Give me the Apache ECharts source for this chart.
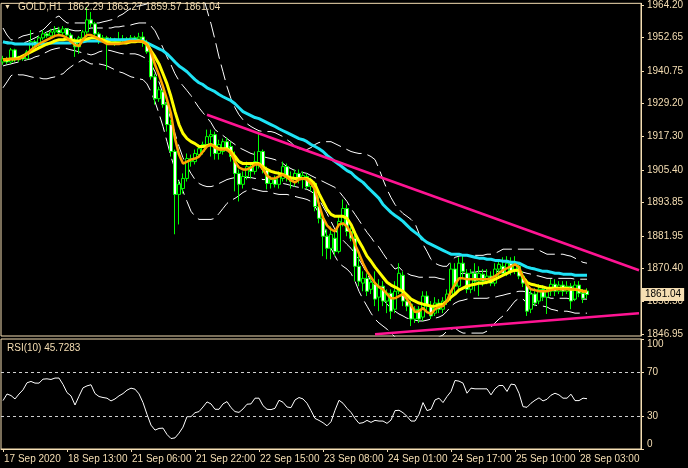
<!DOCTYPE html>
<html><head><meta charset="utf-8">
<script src="https://cdn.jsdelivr.net/npm/echarts@6/dist/echarts.min.js"></script>
<style>html,body{margin:0;padding:0;background:#000;}#c{width:688px;height:468px;}</style>
</head><body><div id="c"></div>
<script>
const symbolName = 'GOLD,H1';
const rsiName = 'RSI(10)';
const xTickIndex = [0,16,32,48,64,80,96,112,128,144];
const xTickLabels = ['17 Sep 2020','18 Sep 13:00','21 Sep 06:00','21 Sep 22:00','22 Sep 15:00','23 Sep 08:00','24 Sep 01:00','24 Sep 17:00','25 Sep 10:00','28 Sep 03:00'];
const barSlots = 160;
const priceTicks = [1964.20,1952.65,1940.75,1929.20,1917.30,1905.40,1893.85,1881.95,1870.40,1858.50,1846.95];
const priceMin = 1846.26, priceMax = 1964.80;
const rsiTicks = [0,30,70,100];
const rsiLevels = [70,30];

// [open, close, low, high]
const ohlc = [
[1943.9,1945.0,1942.9,1946.1],[1945.0,1943.9,1943.2,1945.7],[1943.9,1948.2,1943.2,1948.9],[1948.2,1944.7,1943.9,1948.6],
[1944.7,1945.7,1943.9,1946.1],[1945.7,1945.0,1944.3,1946.4],[1945.0,1947.5,1944.7,1948.2],[1947.5,1951.1,1947.1,1955.3],
[1951.1,1950.0,1949.3,1951.8],[1950.0,1952.5,1949.3,1953.2],[1952.5,1953.9,1951.8,1955.3],[1953.9,1953.2,1952.5,1954.6],
[1953.2,1954.6,1952.8,1955.7],[1954.6,1955.3,1953.5,1956.7],[1955.3,1954.3,1953.5,1956.4],[1954.3,1955.7,1953.5,1956.7],
[1955.7,1953.5,1952.5,1956.0],[1953.5,1951.8,1951.1,1954.3],[1951.8,1949.3,1945.7,1952.5],[1949.3,1952.5,1946.8,1953.2],
[1952.5,1954.6,1951.8,1955.3],[1954.6,1958.9,1953.9,1963.5],[1958.9,1957.5,1956.4,1961.7],[1957.5,1953.9,1952.8,1958.2],
[1953.9,1951.8,1950.3,1954.6],[1951.8,1952.5,1951.1,1953.5],[1952.5,1951.1,1941.1,1953.2],[1951.1,1952.1,1950.0,1952.8],
[1952.1,1951.1,1949.6,1952.5],[1951.1,1951.8,1950.3,1954.6],[1951.8,1952.1,1951.1,1953.5],[1952.1,1951.4,1950.3,1952.8],
[1951.4,1952.5,1950.7,1953.5],[1952.5,1952.1,1951.1,1953.2],[1952.1,1952.8,1951.4,1954.3],[1952.8,1951.1,1949.3,1954.6],
[1950.3,1947.5,1946.8,1951.8],[1947.5,1938.6,1937.6,1948.2],[1938.6,1930.8,1928.7,1939.7],[1930.8,1934.0,1929.7,1935.1],
[1933.3,1928.7,1927.6,1934.0],[1928.7,1921.6,1919.1,1929.7],[1921.6,1912.0,1910.2,1923.3],[1912.0,1896.7,1882.5,1912.7],
[1896.7,1900.3,1886.0,1901.3],[1898.8,1902.4,1897.0,1904.2],[1902.4,1909.5,1901.3,1911.3],[1908.4,1909.5,1906.6,1910.9],
[1908.4,1911.3,1907.4,1912.7],[1910.9,1913.0,1909.8,1914.5],[1912.0,1914.5,1910.9,1915.5],[1914.5,1917.3,1913.4,1919.8],
[1917.3,1918.0,1910.2,1919.8],[1918.0,1911.3,1909.1,1919.1],[1911.3,1914.5,1909.1,1916.2],[1912.0,1915.5,1910.9,1916.6],
[1915.5,1913.0,1912.0,1917.0],[1913.8,1910.2,1908.4,1915.5],[1910.2,1904.2,1897.8,1912.0],[1904.2,1900.3,1894.2,1905.6],
[1900.3,1903.1,1898.8,1904.9],[1903.1,1906.6,1902.0,1908.4],[1906.6,1904.9,1902.4,1907.7],[1904.9,1908.4,1903.8,1912.0],
[1907.4,1912.0,1905.9,1919.1],[1912.0,1905.6,1904.2,1912.7],[1905.6,1900.6,1898.5,1906.6],[1900.6,1902.0,1898.8,1903.1],
[1902.0,1900.3,1899.2,1903.4],[1900.3,1903.1,1898.8,1904.9],[1902.4,1906.6,1901.3,1908.4],[1906.6,1902.7,1901.3,1907.7],
[1902.7,1901.3,1898.8,1904.9],[1901.3,1904.2,1899.5,1905.6],[1904.2,1902.0,1900.6,1905.6],[1902.0,1903.4,1898.8,1904.9],
[1903.1,1899.5,1898.5,1904.2],[1899.5,1901.3,1897.8,1902.7],[1900.6,1892.4,1890.7,1901.3],[1892.4,1888.2,1886.4,1896.0],
[1888.2,1881.8,1874.7,1889.2],[1881.8,1877.5,1873.6,1884.3],[1877.5,1882.5,1873.6,1885.3],[1881.1,1876.4,1874.7,1883.5],
[1876.4,1887.1,1875.7,1888.9],[1886.4,1891.7,1885.3,1894.9],[1891.7,1883.5,1881.8,1893.1],[1883.5,1881.1,1880.0,1885.0],
[1881.1,1871.1,1865.8,1882.5],[1871.1,1865.8,1864.0,1876.4],[1865.1,1866.8,1862.2,1869.3],[1866.8,1862.2,1860.5,1868.6],
[1862.9,1865.4,1861.2,1867.9],[1864.7,1859.4,1856.9,1869.3],[1860.1,1864.0,1855.1,1866.5],[1864.0,1858.7,1856.9,1865.8],
[1858.7,1861.5,1854.4,1862.9],[1861.5,1855.1,1852.3,1862.9],[1855.8,1862.2,1854.4,1865.8],[1862.2,1868.6,1861.2,1872.2],
[1867.9,1858.7,1856.9,1869.3],[1858.7,1856.9,1855.1,1860.5],[1857.6,1852.3,1849.8,1858.7],[1852.3,1855.8,1850.9,1856.9],
[1855.8,1852.3,1850.9,1856.9],[1853.0,1860.5,1851.6,1862.2],[1860.5,1856.9,1855.1,1862.2],[1856.9,1853.4,1852.3,1858.7],
[1854.4,1858.0,1853.4,1860.1],[1858.0,1855.8,1854.4,1859.4],[1855.8,1858.7,1854.4,1860.1],[1858.7,1861.2,1857.3,1862.9],
[1860.5,1870.1,1858.7,1872.2],[1870.1,1864.0,1860.5,1872.2],[1864.0,1872.2,1862.2,1874.3],[1872.2,1869.3,1866.8,1874.7],
[1868.6,1862.9,1861.5,1870.1],[1862.9,1868.6,1861.5,1870.1],[1868.6,1865.8,1862.2,1872.2],[1865.8,1868.6,1860.5,1871.1],
[1868.3,1865.8,1864.0,1870.1],[1865.8,1867.6,1864.7,1870.1],[1867.6,1865.1,1864.0,1869.3],[1865.1,1870.1,1864.0,1872.2],
[1870.1,1871.8,1867.6,1873.6],[1871.1,1868.6,1867.6,1874.3],[1868.6,1872.2,1867.6,1874.7],[1872.2,1869.3,1867.9,1874.3],
[1869.3,1871.8,1868.3,1874.7],[1871.1,1867.6,1866.5,1872.2],[1867.6,1865.1,1863.7,1869.3],[1865.1,1855.1,1853.4,1866.5],
[1855.8,1861.2,1854.4,1862.9],[1861.2,1858.0,1856.9,1863.3],[1858.7,1862.9,1857.6,1864.7],[1862.9,1860.1,1858.7,1864.4],
[1860.1,1862.2,1854.1,1863.7],[1862.2,1864.7,1860.5,1866.5],[1864.7,1862.2,1860.5,1866.5],[1862.2,1864.4,1861.2,1865.8],
[1864.4,1862.2,1860.5,1865.8],[1862.2,1864.0,1861.2,1865.8],[1864.0,1858.7,1855.8,1865.1],[1859.4,1864.4,1858.7,1865.8],
[1864.4,1861.5,1860.1,1865.8],[1861.5,1859.7,1858.0,1862.9],[1862.29,1861.04,1859.57,1863.27]
];

const maYellow = [
1944.7,1944.7,1945.0,1945.0,1945.4,1946.1,1946.8,1947.5,1948.2,1948.9,
1949.6,1950.3,1950.7,1951.4,1951.8,1951.8,1952.1,1951.8,1951.4,1951.4,
1951.8,1952.1,1952.5,1952.5,1952.1,1951.8,1951.1,1950.7,1950.7,1950.7,
1950.7,1950.7,1951.1,1951.1,1951.4,1951.1,1950.3,1947.9,1945.7,1943.2,
1939.7,1936.1,1931.5,1926.2,1921.6,1918.4,1916.6,1915.5,1914.8,1913.8,
1913.8,1914.1,1914.5,1913.8,1913.0,1913.0,1913.0,1912.0,1910.2,1908.4,
1907.7,1907.7,1907.7,1907.7,1907.7,1906.6,1905.6,1904.9,1904.5,1904.2,
1903.8,1903.1,1902.7,1902.4,1902.4,1902.4,1902.4,1901.7,1900.3,1897.0,
1894.2,1891.4,1889.6,1888.9,1888.9,1888.9,1888.2,1886.0,1882.8,1880.0,
1877.5,1874.7,1872.9,1870.8,1869.0,1867.2,1865.4,1864.4,1863.7,1862.9,
1862.2,1860.8,1859.4,1858.7,1858.0,1857.6,1857.3,1856.9,1856.9,1857.3,
1857.6,1858.7,1860.1,1861.2,1862.6,1863.3,1864.0,1864.4,1864.7,1865.1,
1865.1,1865.4,1865.8,1866.5,1867.2,1867.9,1868.6,1869.3,1869.7,1869.7,
1867.2,1865.4,1864.7,1864.4,1864.0,1863.7,1863.3,1863.3,1863.3,1863.3,
1863.3,1863.3,1862.9,1862.9,1862.6,1862.2,1862.2];

const maOrange = [
1944.7,1945.0,1945.0,1945.0,1945.0,1945.7,1946.8,1948.2,1949.3,1950.3,
1951.1,1951.8,1952.5,1953.2,1953.5,1953.2,1952.5,1951.1,1950.0,1949.6,
1951.8,1953.5,1953.5,1952.8,1952.1,1951.1,1950.3,1950.3,1950.3,1950.3,
1950.7,1951.1,1951.4,1951.4,1951.4,1951.1,1950.0,1947.5,1942.9,1939.3,
1935.1,1930.5,1925.5,1916.6,1910.9,1907.7,1908.4,1909.1,1909.5,1910.2,
1912.0,1913.8,1914.5,1913.4,1912.7,1912.7,1912.7,1911.3,1908.4,1906.3,
1905.6,1905.6,1906.3,1907.4,1907.4,1905.6,1903.4,1902.4,1902.4,1903.1,
1903.8,1902.7,1901.7,1901.0,1902.0,1902.4,1902.0,1900.6,1898.5,1893.1,
1888.5,1885.7,1884.3,1883.5,1886.0,1886.4,1885.3,1882.8,1878.9,1875.7,
1872.2,1869.3,1867.2,1865.1,1863.7,1862.9,1861.2,1859.7,1859.7,1860.5,
1861.2,1859.4,1857.3,1854.8,1855.1,1856.2,1854.8,1854.1,1855.8,1856.6,
1856.9,1858.7,1862.2,1864.7,1866.8,1866.8,1866.5,1866.5,1866.5,1866.5,
1866.5,1866.5,1866.8,1867.6,1868.6,1869.7,1870.4,1871.1,1871.8,1870.8,
1867.2,1864.4,1862.9,1862.6,1862.2,1862.2,1862.2,1862.6,1862.9,1862.9,
1862.9,1862.9,1862.9,1862.9,1862.6,1862.2,1862.2];

const maCyan = [
1951.1,1950.7,1950.7,1950.3,1950.3,1950.3,1950.3,1950.3,1950.3,1950.3,
1950.3,1950.3,1950.7,1950.7,1950.7,1950.7,1950.7,1950.7,1951.1,1951.1,
1951.1,1951.4,1951.4,1951.4,1951.4,1951.4,1951.8,1951.8,1951.8,1951.8,
1951.8,1951.8,1951.8,1951.8,1951.4,1951.4,1950.7,1950.0,1949.3,1948.6,
1947.9,1946.8,1945.4,1943.9,1942.5,1941.5,1940.4,1939.0,1937.6,1936.5,
1935.8,1934.7,1934.0,1933.3,1932.3,1931.5,1930.8,1930.1,1929.0,1927.6,
1926.2,1925.5,1924.8,1924.1,1923.7,1923.0,1922.3,1921.6,1920.9,1920.1,
1919.4,1918.7,1918.0,1917.3,1916.6,1916.2,1915.5,1914.5,1913.8,1913.0,
1912.0,1910.6,1909.5,1908.4,1907.4,1906.3,1905.2,1904.5,1903.1,1902.0,
1901.0,1899.5,1898.1,1896.7,1895.3,1893.1,1891.7,1890.3,1889.2,1888.2,
1887.1,1885.7,1884.3,1883.2,1882.1,1880.7,1879.6,1878.9,1878.2,1877.5,
1876.8,1876.1,1875.4,1875.4,1875.4,1875.0,1875.0,1874.7,1874.3,1874.0,
1874.0,1873.6,1873.6,1873.2,1873.2,1872.9,1872.9,1872.5,1872.5,1872.2,
1871.5,1870.8,1870.4,1870.1,1869.7,1869.3,1869.3,1869.0,1868.6,1868.6,
1868.3,1868.3,1868.3,1867.9,1867.9,1867.9,1867.9];

const bandOuterUp = [
1956.0,1953.5,1951.8,1951.8,1952.5,1953.2,1953.5,1953.9,1954.3,1954.6,1955.3,1956.7,1958.2,1959.6,1960.3,1958.9,1957.8,1957.8,1957.8,1957.8,1957.8,1957.8,1957.8,1957.8,1957.8,1958.2,1958.5,1958.9,1959.2,1960.3,1961.0,1962.1,1963.1,1963.5,1963.9,1964.2,
1964.6,1966.3,1968.1,1969.5,1971.0,1972.4,1974.2,1975.9,1977.7,1978.8,1978.8,1977.7,1975.2,1971.7,1967.4,1962.4,1957.5,1951.8,1945.7,1940.4,1935.1,
1930.8,1927.6,1925.1,1923.3,1921.9,1920.9,1920.1,1919.4,1919.1,1919.1,1919.1,1918.7,1918.0,1917.3,1916.2,1915.2,1913.8,1913.0,1912.7,1912.7,1913.4,
1914.5,1915.2,1915.5,1915.5,1915.5,1914.8,1914.1,1913.4,1912.7,1912.0,1911.6,1911.3,1911.3,1910.9,1910.2,1909.1,1905.9,1902.0,1898.5,1895.6,1893.1,
1891.4,1889.9,1888.9,1887.8,1886.4,1882.8,1878.9,1876.4,1873.6,1872.2,1871.5,1871.1,1871.1,1872.9,1874.3,1874.7,1875.0,1875.0,1875.0,1875.0,1875.0,
1875.0,1875.4,1875.4,1875.7,1876.4,1877.2,1877.2,1877.2,1877.2,1877.2,1877.2,1877.2,1877.2,1877.2,1876.8,1876.1,1875.4,1875.4,1875.4,1875.4,1875.4,1875.0,1874.7,1874.0,1873.2,1872.5,1872.2];

const bandInnerUp = [
1951.1,1951.1,1950.7,1950.3,1950.3,1950.7,1951.1,1951.8,1952.5,1953.2,1953.9,1954.6,1955.3,1955.7,1956.0,1956.0,1955.7,1955.3,1955.0,1955.0,1955.3,1955.7,1956.0,1956.0,1956.0,1956.0,1956.0,1956.0,1956.4,1956.4,1956.7,1956.7,1957.1,1957.5,1957.8,1957.8,
1957.8,1956.7,1955.0,1952.1,1948.9,1945.7,1942.9,1939.7,1937.2,1935.4,1933.7,1931.9,1929.7,1927.6,1925.8,1924.1,1922.3,1919.8,1918.7,1917.7,1916.6,
1915.5,1914.5,1913.4,1912.7,1912.0,1911.3,1910.9,1910.6,1910.2,1909.8,1909.5,1909.1,1908.4,1907.7,1906.6,1905.9,1905.2,1904.9,1904.5,1904.2,1903.4,
1902.7,1902.0,1901.3,1900.6,1899.9,1899.2,1897.8,1896.0,1894.2,1891.7,1889.6,1887.5,1885.3,1883.2,1881.4,1879.3,1877.9,1875.7,1873.6,1871.8,1870.1,
1870.8,1869.3,1868.6,1867.9,1867.6,1867.2,1867.2,1867.2,1867.2,1867.2,1866.8,1866.5,1866.5,1867.2,1867.9,1868.3,1868.6,1868.6,1869.0,1869.0,1869.3,
1869.3,1869.3,1869.3,1869.3,1869.3,1869.3,1869.3,1869.3,1869.3,1869.3,1869.0,1868.6,1868.3,1867.9,1867.6,1867.2,1866.8,1866.8,1866.8,1866.8,1866.8,1866.8,1866.8,1866.5,1866.5,1866.5,1866.5];

const bandInnerLow = [
1942.5,1942.9,1943.2,1943.6,1943.9,1944.3,1944.7,1945.0,1945.7,1946.1,1946.8,1947.5,1948.2,1948.6,1948.9,1948.9,1948.6,1948.2,1947.9,1947.5,1947.1,1946.8,1946.4,1946.8,1947.5,1947.9,1948.2,1947.9,1947.5,1947.1,1946.8,1946.8,1946.8,1946.8,1946.4,1945.7,
1945.0,1943.2,1940.4,1936.8,1932.6,1928.0,1923.3,1918.4,1913.8,1909.8,1906.6,1904.2,1902.0,1900.6,1899.9,1899.5,1899.5,1899.9,1900.6,1901.3,1902.0,
1902.4,1902.7,1902.7,1902.7,1902.7,1902.7,1902.4,1902.4,1902.0,1902.0,1901.7,1901.3,1901.0,1900.6,1900.3,1899.9,1899.5,1899.2,1898.8,1898.5,1897.8,
1896.7,1894.9,1892.4,1889.9,1887.1,1884.3,1882.1,1880.4,1878.9,1877.5,1875.7,1873.6,1871.1,1868.6,1865.8,1863.3,1861.2,1859.4,1857.6,1856.2,1855.1,
1854.1,1853.4,1852.6,1852.3,1851.9,1851.6,1851.6,1851.9,1852.3,1852.6,1853.0,1853.7,1855.1,1856.9,1858.0,1858.7,1859.0,1859.4,1859.7,1859.7,1859.7,
1859.7,1859.7,1860.1,1860.1,1860.5,1860.8,1861.2,1861.5,1861.9,1862.2,1862.2,1861.9,1861.5,1861.2,1860.8,1860.5,1860.1,1859.7,1859.7,1859.7,1859.7,1859.7,1859.4,1859.4,1859.4,1859.4,1859.4];

const bandOuterLow = [
1934.7,1936.8,1939.0,1939.7,1939.3,1939.3,1939.0,1938.6,1938.3,1938.3,1937.9,1937.9,1938.3,1938.6,1939.3,1939.7,1941.1,1942.2,1943.2,1943.9,1944.7,1943.9,1943.2,1943.2,1943.2,1942.9,1942.5,1941.8,1941.1,1940.4,1940.0,1939.3,1938.6,1938.3,1937.9,1937.6,
1936.1,1933.3,1929.7,1925.5,1920.9,1915.5,1910.2,1905.6,1901.3,1897.8,1894.2,1890.7,1888.9,1887.8,1887.8,1887.8,1887.8,1888.2,1889.9,1891.7,1893.5,
1894.6,1895.3,1896.3,1897.4,1898.1,1898.8,1898.5,1898.1,1897.8,1897.8,1897.4,1897.0,1896.7,1896.7,1896.7,1896.3,1896.0,1895.6,1895.3,1894.9,1894.2,
1892.4,1889.9,1886.4,1881.8,1877.5,1874.7,1872.2,1871.1,1870.1,1868.6,1865.8,1862.2,1859.4,1856.9,1854.4,1852.3,1850.9,1849.8,1848.7,1847.3,1845.9,
1845.2,1844.5,1843.8,1843.4,1843.1,1842.7,1843.1,1843.8,1844.5,1845.2,1845.9,1846.6,1848.0,1848.7,1849.1,1848.0,1847.3,1847.3,1847.3,1847.3,1847.3,
1847.3,1848.0,1849.4,1850.9,1852.3,1853.4,1855.1,1856.9,1858.7,1859.7,1859.4,1858.0,1857.6,1857.3,1856.9,1856.9,1856.6,1855.8,1855.5,1855.1,1855.1,1855.1,1854.8,1854.4,1854.4,1854.4,1854.4];

const rsi = [
44,50,48.6,45.5,50,53.8,60.2,61.4,59.9,59.9,
63.5,63.8,63.2,64.5,64.5,58.7,51.3,48.3,40,48,
55.6,57.4,58.4,50.4,47.7,46.8,46.2,43.7,45.5,48.3,
50.4,53.5,55.3,54.4,50.1,42.2,31.5,21.7,17.2,18.7,
19,13.2,9.5,10.1,14.4,19.9,29.4,29.4,33,34,
38.2,42.8,41,36.1,36.1,41,43.1,37.6,34,33.3,
36.4,40.7,41,46.2,46.2,39.4,36.1,35.8,37,44.3,
42.5,38.2,37.6,44.6,46.8,45.5,41.6,34.9,27.8,26,
23.9,21.1,24.8,35.2,44.3,41.6,37,33.3,27.8,23.3,
23.9,26,24.2,26,25.4,25.4,23.3,26.3,34.9,35.2,
33,29.7,25.4,25.4,31.5,42.2,34.9,36.1,44.6,46.2,
42.2,47.7,52.3,62.3,61.7,59.9,50.7,55.3,54.7,54.7,
54.7,54.7,49.2,54.7,57.7,57.7,52.3,59,58.4,50.7,
38.5,37.9,41.6,44.3,46.5,43.7,45.2,48.9,50.7,49.2,
46.2,46.2,49.8,44,44,46.2,45.7283];

// trendlines: [bar index, price]
const trendUpper = [[51,1925.1],[159,1869.7]];
const trendLower = [[93,1846.9],[159,1854.4]];

const FG = '#F5DEB3';
const FONT = "'Liberation Sans',Arial,sans-serif";
const FS = 10;
const cats = Array.from({length: barSlots}, (_, i) => String(i));
const labelAt = {};
xTickIndex.forEach((k, j) => { labelAt[k] = xTickLabels[j]; });
const isTick = (i) => labelAt[i] !== undefined;
const last = ohlc[ohlc.length - 1];

const chart = echarts.init(document.getElementById('c'), null, {renderer: 'canvas'});

function band(data) {
  return {type: 'line', xAxisIndex: 0, yAxisIndex: 0, data, showSymbol: false, symbol: 'none', silent: true, z: 1,
    lineStyle: {color: '#ffffff', width: 1, type: [16, 6]}};
}
function ma(data, color, width, z) {
  return {type: 'line', xAxisIndex: 0, yAxisIndex: 0, data, showSymbol: false, symbol: 'none', silent: true, z,
    lineStyle: {color, width}};
}
function trend(data) {
  return {type: 'line', xAxisIndex: 0, yAxisIndex: 0, data, showSymbol: false, symbol: 'none', silent: true, z: 6,
    lineStyle: {color: '#FF1493', width: 2.5}};
}

const option = {
  backgroundColor: '#000',
  animation: false,
  grid: [
    {left: 1, right: 47, top: 0, height: 336, show: true, borderColor: FG, borderWidth: 1, backgroundColor: '#000'},
    {left: 1, right: 47, top: 339, height: 110, show: true, borderColor: FG, borderWidth: 1, backgroundColor: '#000'}
  ],
  xAxis: [
    {type: 'category', gridIndex: 0, data: cats, boundaryGap: true,
      axisLine: {show: false}, axisTick: {show: false}, axisLabel: {show: false}, splitLine: {show: false}},
    {type: 'category', gridIndex: 1, data: cats, boundaryGap: true,
      axisLine: {show: true, lineStyle: {color: FG}},
      axisTick: {show: true, alignWithLabel: true, interval: (i) => isTick(i), length: 3, lineStyle: {color: FG}},
      axisLabel: {show: true, interval: (i) => isTick(i), formatter: (v, i) => labelAt[i] || '',
        color: FG, fontFamily: FONT, fontSize: FS, align: 'left', margin: 5, padding: [0, 0, 0, 1]},
      splitLine: {show: false}}
  ],
  yAxis: [
    {type: 'value', gridIndex: 0, position: 'right', min: priceMin, max: priceMax,
      axisLine: {show: true, lineStyle: {color: FG}},
      axisTick: {show: true, customValues: priceTicks, length: 3, lineStyle: {color: FG}},
      axisLabel: {show: true, customValues: priceTicks, formatter: (v) => v.toFixed(2), color: FG, fontFamily: FONT, fontSize: FS, margin: 6},
      splitLine: {show: false}},
    {type: 'value', gridIndex: 1, position: 'right', min: 0, max: 100,
      axisLine: {show: true, lineStyle: {color: FG}},
      axisTick: {show: true, customValues: rsiTicks, length: 3, lineStyle: {color: FG}},
      axisLabel: {show: true, customValues: rsiTicks, formatter: (v) => String(v), color: FG, fontFamily: FONT, fontSize: FS, margin: 6,
        verticalAlignMinLabel: 'bottom', verticalAlignMaxLabel: 'top'},
      splitLine: {show: false}}
  ],
  graphic: [
    {type: 'text', left: 4, top: 4, z: 100, style: {text: '\u25BC', fill: FG, font: '7px sans-serif'}},
    {type: 'text', left: 18, top: 2, z: 100, style: {
      text: symbolName + '  ' + last[0].toFixed(2) + ' ' + last[3].toFixed(2) + ' ' + last[2].toFixed(2) + ' ' + last[1].toFixed(2),
      fill: FG, font: FS + 'px ' + FONT}},
    {type: 'text', left: 7, top: 343, z: 100, style: {text: rsiName + ' ' + rsi[rsi.length - 1], fill: FG, font: FS + 'px ' + FONT}}
  ],
  series: [
    band(bandOuterUp), band(bandInnerUp), band(bandInnerLow), band(bandOuterLow),
    {type: 'candlestick', xAxisIndex: 0, yAxisIndex: 0, data: ohlc, barWidth: 3, z: 2, silent: true,
      itemStyle: {color: '#000000', color0: '#ffffff', borderColor: '#00ff00', borderColor0: '#00ff00', borderWidth: 1},
      markLine: {silent: true, symbol: ['none', 'none'], animation: false,
        lineStyle: {color: 'rgba(0,0,0,0)', width: 0},
        label: {show: true, position: 'end', distance: 1, formatter: last[1].toFixed(2), backgroundColor: FG, color: '#000',
          fontFamily: FONT, fontSize: FS, padding: [2, 3, 1, 3]},
        data: [{yAxis: last[1]}]}},
    ma(maCyan, '#1EE3F5', 3, 3),
    ma(maYellow, '#FFFF00', 3, 4),
    ma(maOrange, '#FFA500', 2.5, 5),
    trend(trendUpper), trend(trendLower),
    {type: 'line', xAxisIndex: 1, yAxisIndex: 1, data: rsi, showSymbol: false, symbol: 'none', silent: true,
      lineStyle: {color: '#ffffff', width: 1},
      markLine: {silent: true, symbol: ['none', 'none'], animation: false,
        lineStyle: {color: '#d0d0d0', width: 1, type: [3, 3]}, label: {show: false},
        data: rsiLevels.map((v) => ({yAxis: v}))}}
  ]
};
chart.setOption(option);
</script>
</body></html>
